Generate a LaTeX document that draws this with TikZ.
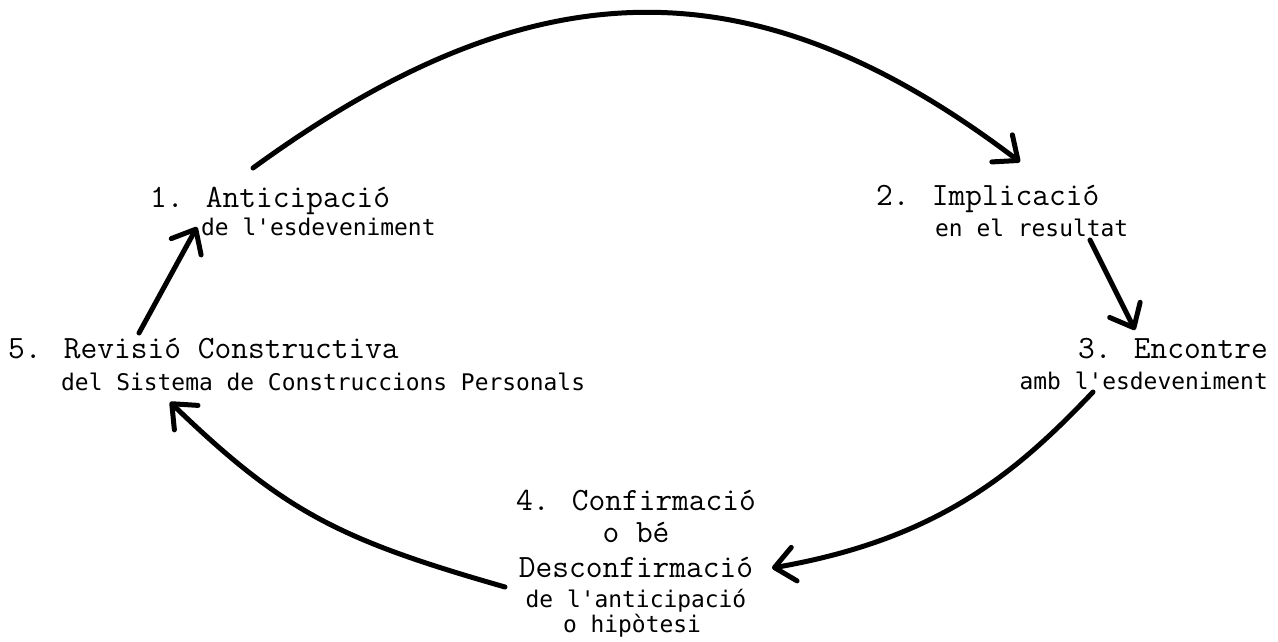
\documentclass[tikz,border=0pt]{standalone}
\usepackage{fontspec}
\newfontfamily\dotfont{DejaVu Sans Mono}
\usetikzlibrary{arrows.meta}
\tikzset{
  big/.style={inner sep=0pt, font=\ttfamily\fontsize{32.5}{36}\selectfont},
  small/.style={inner sep=0pt, font=\fontsize{22.9}{26}\dotfont},
  arr/.style={line width=5pt, line cap=round, line join=round,
    -{Straight Barb[length=20pt,width=34pt,round]}},
}
\begin{document}
\begin{tikzpicture}[x=1pt,y=-1pt]
\useasboundingbox (0,0) rectangle (1278,641);
% texts
\node[big,anchor=base west]   (t1a) at (150,207) {1. Anticipació};
\node[small,anchor=base west] (t1b) at (201,235) {de l'esdeveniment};
\node[big,anchor=base west]   (t2a) at (876,205) {2. Implicació};
\node[small,anchor=base west] (t2b) at (935,236) {en el resultat};
\node[big,anchor=base east]   (t3a) at (1268,358) {3. Encontre};
\node[small,anchor=base east] (t3b) at (1268,389) {amb l'esdeveniment};
\node[big,anchor=base west]   (t5a) at (8,358) {5. Revisió Constructiva};
\node[small,anchor=base west] (t5b) at (61,390) {del Sistema de Construccions Personals};
\node[big,anchor=base]   (t4a) at (636,510) {4. Confirmació};
\node[big,anchor=base]   (t4b) at (636,542) {o bé};
\node[big,anchor=base]   (t4c) at (636,577) {Desconfirmació};
\node[small,anchor=base] (t4d) at (636,607) {de l'anticipació};
\node[small,anchor=base] (t4e) at (632,632) {o hipòtesi};
% connector end points
\coordinate (a1s) at (253,168);
\coordinate (a1e) at (1020,162);
\coordinate (a2s) at (1090,240);
\coordinate (a2e) at (1135,330);
\coordinate (a3s) at (1093,392);
\coordinate (a3e) at (772,568);
\coordinate (a4s) at (505,587);
\coordinate (a4e) at (170,402);
\coordinate (a5s) at (139,333);
\coordinate (a5e) at (197,227);
% connectors
\draw[arr] (a1s) .. controls (528,-32) and (749,-44) .. (a1e);
\draw[arr] (a2s) -- (a2e);
\draw[arr] (a3s) .. controls (1017,472) and (939,539) .. (a3e);
\draw[arr] (a4s) .. controls (341,540) and (285,513) .. (a4e);
\draw[arr] (a5s) -- (a5e);
\end{tikzpicture}
\end{document}
